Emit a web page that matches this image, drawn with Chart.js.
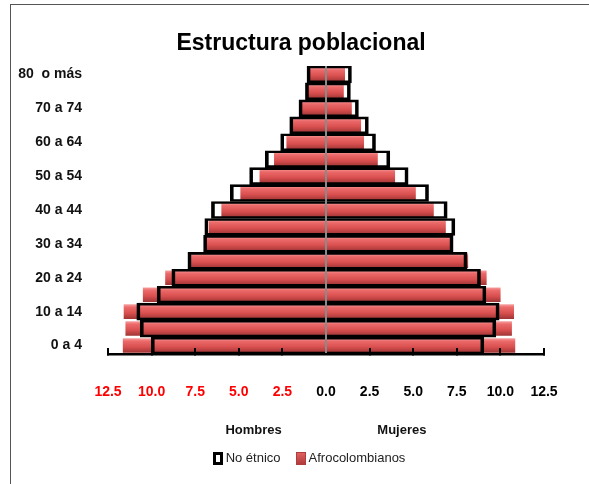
<!DOCTYPE html>
<html>
<head>
<meta charset="utf-8">
<script src="https://cdn.jsdelivr.net/npm/chart.js@4/dist/chart.umd.min.js"></script>
<style>
  html,body{margin:0;padding:0;background:#fff;overflow:hidden}
  #wrap{position:relative;width:589px;height:484px}
  #frame{position:absolute;left:10px;top:4px;width:600px;height:500px;border:1.5px solid #555;box-sizing:border-box}
  canvas{position:absolute;left:0;top:0}
  .title{position:absolute;left:0;top:28px;width:602px;text-align:center;font-family:'Liberation Sans',Arial,sans-serif;
    font-weight:bold;font-size:23px;line-height:28px;color:#000}
  .legend{position:absolute;left:0;top:450px;width:618px;display:flex;justify-content:center;gap:15px;
    font-family:'Liberation Sans',Arial,sans-serif;font-size:13px;color:#222;line-height:16px}
  .legend-item{display:flex;align-items:center;gap:3px}
  .legend-dot{width:10px;height:13px;box-sizing:border-box}
</style>
</head>
<body>
<div id="wrap">
  <div id="frame"></div>
  <canvas id="c" width="589" height="484"></canvas>
  <div class="title">Estructura poblacional</div>
  <div class="legend" id="leg"></div>
</div>
<script>
const EDADES = ['0 a 4','5 a 9','10 a 14','15 a 19','20 a 24','25 a 29','30 a 34','35 a 39','40 a 44',
  '45 a 49','50 a 54','55 a 59','60 a 64','65 a 69','70 a 74','75 a 79','80  o más']
// % de la población, por sexo
const NO_ETNICO_H = [10.02,10.65,10.85,9.68,8.84,7.92,7.02,6.95,6.57,5.49,4.38,3.48,2.60,2.08,1.55,1.18,1.09]
const NO_ETNICO_M = [9.05,9.74,9.93,9.17,8.86,8.09,7.29,7.39,6.95,5.88,4.71,3.66,2.84,2.43,1.86,1.40,1.46]
const AFRO_H = [11.65,11.50,11.60,10.50,9.22,7.82,6.91,6.72,6.00,4.91,3.81,2.98,2.27,1.93,1.41,1.03,0.98]
const AFRO_M = [10.85,10.66,10.78,10.01,9.21,8.15,7.16,6.87,6.18,5.15,3.96,2.97,2.18,2.01,1.48,1.02,1.09]
const SERIES = ['No étnico','Afrocolombianos']
const SEXOS = ['Hombres','Mujeres']

const FONT = "'Liberation Sans',Arial,sans-serif"
const RED_PCT = 0.86

function redFill(c){
  const chart=c.chart, ys=chart.scales.y
  if(!ys || !chart.chartArea) return '#d9534f'
  const y=ys.getPixelForValue(c.dataIndex)
  const step=Math.abs(ys.getPixelForValue(1)-ys.getPixelForValue(0))
  const h=step*RED_PCT/2
  const g=chart.ctx.createLinearGradient(0,y-h,0,y+h)
  g.addColorStop(0,'#f7a0a0')
  g.addColorStop(0.2,'#ec6a6a')
  g.addColorStop(0.6,'#d94f4f')
  g.addColorStop(1,'#9e3434')
  return g
}

const outline = {backgroundColor:'rgba(0,0,0,0)',borderColor:'#000',borderWidth:{top:2,bottom:2,left:3,right:3},
  borderSkipped:'start',barPercentage:1,categoryPercentage:1,grouped:false}
const red = {backgroundColor:redFill,borderWidth:0,barPercentage:RED_PCT,categoryPercentage:1,grouped:false}

// leyenda en HTML
document.getElementById('leg').innerHTML=`
  <div class="legend-item"><div class="legend-dot" style="background:#fff;border:3px solid #000"></div>${SERIES[0]}</div>
  <div class="legend-item"><div class="legend-dot" style="background:linear-gradient(#e06060,#b03c3c);border:1px solid #b03c3c"></div>${SERIES[1]}</div>`

const sexLabels = {
  id:'sexLabels',
  afterDraw(chart){
    const x=chart.scales.x, ctx=chart.ctx
    ctx.save()
    ctx.font='bold 13px '+FONT
    ctx.fillStyle='#111'
    ctx.textAlign='center'
    ctx.textBaseline='middle'
    const y=x.top+76
    ctx.fillText(SEXOS[0],x.getPixelForValue(-4.15),y)
    ctx.fillText(SEXOS[1],x.getPixelForValue(4.35),y)
    ctx.restore()
  }
}

new Chart(document.getElementById('c'),{
  type:'bar',
  data:{labels:EDADES,datasets:[
    {label:SERIES[0],data:NO_ETNICO_H.map(v=>-v),...outline},
    {label:SERIES[0],data:NO_ETNICO_M,...outline},
    {label:SERIES[1],data:AFRO_H.map(v=>-v),...red},
    {label:SERIES[1],data:AFRO_M,...red},
  ]},
  options:{
    indexAxis:'y',responsive:false,animation:false,
    layout:{padding:{left:8,right:45,top:66,bottom:48}},
    plugins:{
      tooltip:{enabled:false},
      legend:{display:false},
      title:{display:false}
    },
    scales:{
      x:{min:-12.5,max:12.5,
        ticks:{stepSize:2.5,padding:16,font:{family:FONT,size:14,weight:'bold',lineHeight:4},
          color:c=>c.tick.value<0?'#ff0000':'#000',callback:v=>Math.abs(v).toFixed(1)},
        grid:{z:1,lineWidth:2,color:c=>c.tick&&c.tick.value===0?'#8a8a8a':'rgba(0,0,0,0)',
          tickLength:-6,tickWidth:2,tickColor:c=>c.tick&&c.tick.value===0?'rgba(0,0,0,0)':'#000'},
        border:{display:true,color:'#000',width:2.5,z:1}
      },
      y:{reverse:true,
        afterFit:s=>{s.width=100},
        ticks:{autoSkip:false,padding:18,color:'#111',font:{family:FONT,size:14,weight:'bold'},
          callback:function(v,i){return i%2===0?this.getLabelForValue(v):''}},
        grid:{display:false},border:{display:false}
      }
    }
  },
  plugins:[sexLabels]
})
</script>
</body>
</html>
